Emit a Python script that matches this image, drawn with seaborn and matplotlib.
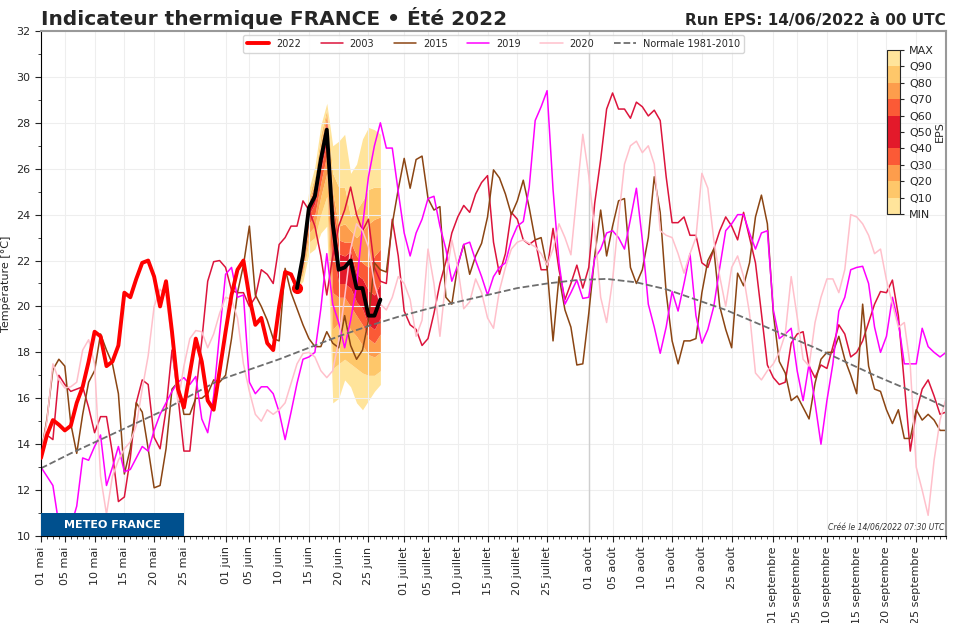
import numpy as np
import pandas as pd
import matplotlib
matplotlib.use('Agg')
import matplotlib.pyplot as plt
from matplotlib.colors import ListedColormap, BoundaryNorm
from matplotlib.cm import ScalarMappable
from matplotlib.ticker import MultipleLocator
from matplotlib.patches import Rectangle
import matplotlib.dates as mdates
import seaborn as sns

sns.set_style('ticks')

# --- data (daily mean temperature, 01 May -> 30 Sep) ---
dates = pd.date_range('2022-05-01', '2022-09-30', freq='D')

t2003 = [13.5, 14.4, 14.2, 17.0, 16.6, 16.3, 16.4, 16.5, 15.6, 14.5,
         15.2, 15.2, 13.6, 11.5, 11.7, 13.4, 15.8, 16.8, 16.6, 14.3,
         13.8, 15.5, 18.1, 16.1, 13.7, 13.7, 16.2, 18.5, 21.1, 21.95, 22.0,
         21.7, 20.7, 20.6, 20.6, 20.0, 20.4, 21.6, 21.4, 21.0, 22.7,
         23.0, 23.5, 23.5, 24.6, 24.2, 23.5, 22.2, 20.5, 22.2, 23.5,
         24.2, 25.2, 24.0, 23.3, 23.8, 21.7, 21.1, 21.0, 23.8, 22.2,
         19.8, 19.2, 19.0, 18.3, 18.6, 19.7, 21.0, 21.95, 23.2, 23.9,
         24.4, 24.1, 24.9, 25.4, 25.7, 22.8, 21.4, 22.3, 24.1, 23.8,
         22.9, 22.7, 22.9, 21.6, 21.6, 23.4, 21.6, 20.3, 21.0, 21.8, 20.8,
         21.7, 24.5, 26.4, 28.6, 29.3, 28.6, 28.6, 28.2, 28.9, 28.7,
         28.3, 28.55, 28.1, 25.65, 23.65, 23.65, 23.9, 23.1, 23.1, 21.9,
         21.7, 22.5, 23.3, 23.9, 23.5, 22.9, 24.1, 23.0, 21.9, 19.7, 17.45,
         16.9, 16.6, 16.7, 18.4, 18.8, 18.9, 17.4, 16.9, 17.45, 17.3,
         18.25, 19.2, 18.8, 17.8, 18.0, 18.5, 19.3, 20.1, 20.65, 20.6,
         21.15, 19.6, 16.65, 13.7, 15.4, 16.4, 16.8, 16.1, 15.3, 15.4]

t2015 = [13.6, 15.1, 17.25, 17.7, 17.4, 14.9, 13.6, 15.3, 16.7, 17.2,
         18.8, 18.1, 17.5, 16.2, 12.7, 13.8, 15.8, 15.4, 13.8, 12.1,
         12.2, 13.8, 16.4, 16.7, 15.3, 15.3, 16.0, 16.0, 16.2, 16.8, 16.7,
         17.0, 18.6, 20.6, 21.8, 23.5, 20.5, 20.0, 19.4, 18.6, 18.5,
         21.66, 20.6, 19.9, 19.2, 18.6, 18.25, 18.25, 18.9, 18.4, 18.2,
         19.6, 18.3, 17.7, 18.1, 19.4, 21.9, 21.6, 21.5, 23.6, 25.1,
         26.45, 25.15, 26.4, 26.55, 24.7, 24.2, 24.35, 20.4, 20.1, 21.8,
         22.7, 21.4, 22.2, 22.75, 23.9, 25.95, 25.6, 24.9, 24.0, 24.6,
         25.5, 24.3, 22.9, 23.0, 21.7, 18.5, 21.3, 19.85, 19.1, 17.45, 17.5,
         19.7, 22.2, 24.2, 22.2, 23.5, 24.6, 24.7, 21.7, 21.0, 21.6,
         23.0, 25.65, 24.1, 20.6, 18.5, 17.5, 18.5, 18.5, 18.6, 20.6,
         22.0, 22.5, 20.0, 19.0, 18.2, 21.45, 20.9, 21.9, 23.9, 24.85, 23.6,
         19.7, 17.6, 17.1, 15.9, 16.1, 15.6, 15.1, 16.65, 17.7, 18.0,
         18.0, 18.7, 17.7, 17.0, 16.2, 20.1, 17.4, 16.4, 16.3, 15.5,
         14.9, 15.5, 14.25, 14.25, 15.5, 15.05, 15.3, 15.05, 14.6, 14.6]

t2019 = [13.0, 12.6, 12.2, 10.5, 10.1, 10.4, 11.3, 13.4, 13.3, 13.9,
         14.4, 12.2, 13.0, 13.9, 12.8, 12.9, 13.4, 13.9, 13.7, 14.6,
         15.3, 15.8, 16.3, 16.7, 16.9, 16.6, 16.95, 15.1, 14.5, 16.1, 18.85,
         21.4, 21.7, 20.4, 20.5, 16.7, 16.2, 16.5, 16.5, 16.2, 15.4,
         14.2, 15.4, 16.65, 17.7, 17.8, 18.0, 19.9, 22.3, 20.1, 19.3,
         18.2, 19.4, 20.9, 23.5, 25.65, 27.0, 28.0, 26.9, 26.9, 25.0,
         23.2, 22.2, 23.2, 23.8, 24.7, 24.8, 23.5, 22.5, 21.1, 21.8,
         22.7, 22.8, 22.0, 21.3, 20.5, 21.3, 21.7, 21.9, 22.9, 23.5,
         23.7, 25.2, 28.1, 28.7, 29.4, 25.1, 21.9, 20.1, 20.6, 21.15, 20.35,
         20.4, 22.1, 22.5, 23.2, 23.3, 23.0, 22.5, 23.8, 25.15, 22.9,
         20.1, 19.1, 17.96, 19.1, 20.65, 19.8, 21.0, 22.3, 19.6, 18.4,
         19.0, 20.0, 21.7, 23.3, 23.6, 24.0, 24.0, 23.2, 22.5, 23.2, 23.3,
         19.85, 18.6, 18.8, 19.05, 17.2, 15.9, 17.5, 15.8, 14.0, 15.9,
         17.5, 19.8, 20.4, 21.6, 21.7, 21.75, 21.0, 19.1, 18.0, 18.7,
         20.4, 19.3, 17.5, 17.5, 17.5, 19.05, 18.25, 18.0, 17.8, 18.0]

t2020 = [13.6, 15.0, 17.5, 16.8, 16.45, 16.5, 16.7, 18.1, 18.55, 17.5,
         12.6, 10.95, 12.6, 13.3, 13.8, 14.1, 14.8, 16.4, 17.85, 20.0,
         20.75, 20.45, 18.5, 15.8, 17.4, 18.6, 18.95, 18.9, 18.2, 18.8, 19.7,
         20.4, 20.3, 19.5, 17.5, 16.3, 15.3, 15.0, 15.5, 15.3, 15.5,
         15.8, 16.65, 17.5, 17.95, 18.0, 17.8, 17.2, 16.9, 17.2, 18.5,
         20.4, 22.5, 23.6, 23.3, 22.6, 21.0, 20.1, 19.85, 20.4, 21.3,
         21.0, 20.3, 18.7, 19.4, 22.5, 21.0, 18.7, 21.15, 22.9, 21.7,
         19.9, 20.2, 21.2, 20.6, 19.5, 19.05, 20.7, 21.7, 22.5, 22.8,
         22.9, 22.75, 22.6, 22.3, 21.8, 22.5, 23.6, 23.0, 22.25, 24.9, 27.5,
         25.7, 23.3, 20.4, 19.3, 21.15, 23.8, 26.2, 27.0, 27.2, 26.7,
         27.0, 26.2, 23.3, 23.1, 23.0, 22.3, 21.45, 22.3, 23.0, 25.8,
         25.15, 22.9, 21.3, 20.0, 21.7, 22.2, 21.3, 19.7, 17.1, 16.8, 17.2,
         17.5, 18.0, 18.8, 21.3, 19.55, 17.7, 17.4, 19.3, 20.4, 21.2,
         21.2, 20.6, 21.6, 24.0, 23.9, 23.6, 23.1, 22.3, 22.5, 21.15,
         20.1, 19.1, 19.3, 17.4, 13.0, 12.0, 10.9, 13.3, 15.05, 16.0]

# 2022 observed (01/05 -> 13/06)
t2022 = [13.4, 14.4, 15.05, 14.85, 14.6, 14.8, 15.8, 16.5, 17.6, 18.9,
         18.7, 17.4, 17.6, 18.3, 20.6, 20.4, 21.2, 21.9, 22.0, 21.3,
         20.0, 21.1, 18.9, 16.4, 15.6, 17.1, 18.6, 17.6, 15.9, 15.5, 17.2,
         18.9, 20.5, 21.6, 22.0, 20.4, 19.2, 19.5, 18.4, 18.1, 20.0,
         21.5, 21.4, 20.8]

# normale 1981-2010, one value every 5 days
norm_days = [0, 5, 10, 15, 20, 25, 30, 35, 40, 45, 50, 55, 60, 65, 70, 75,
             80, 85, 90, 95, 100, 105, 110, 115, 120, 125, 130, 135, 140,
             145, 150, 152]
normale = [12.95, 13.6, 14.2, 14.8, 15.4, 16.1, 16.8, 17.25, 17.7, 18.2,
           18.7, 19.15, 19.55, 19.9, 20.2, 20.5, 20.8, 21.0, 21.15, 21.2,
           21.05, 20.75, 20.3, 19.85, 19.3, 18.75, 18.2, 17.6, 17.0, 16.45,
           15.85, 15.6]

# EPS forecast, run 14/06 (13/06 -> 27/06)
eps_med = [20.8, 22.2, 24.3, 24.8, 26.4, 27.7, 23.6, 21.6, 21.7, 22.0, 20.8, 20.8, 19.6, 19.6, 20.3]
eps_min = [20.8, 21.1, 22.3, 22.5, 23.2, 23.5, 15.8, 16.0, 16.8, 16.5, 15.8, 15.5, 15.9, 16.3, 16.6]
eps_q10 = [20.8, 21.4, 22.8, 23.0, 24.0, 24.8, 17.3, 17.5, 17.7, 17.5, 17.3, 17.1, 17.0, 17.0, 17.2]
eps_q20 = [20.8, 21.6, 23.2, 23.5, 24.8, 25.8, 19.0, 19.3, 19.4, 19.0, 18.7, 18.3, 17.9, 17.8, 18.0]
eps_q30 = [20.8, 21.8, 23.6, 24.0, 25.4, 26.6, 20.6, 20.4, 20.4, 20.0, 19.6, 19.2, 18.6, 18.4, 18.8]
eps_q40 = [20.8, 22.0, 24.0, 24.5, 26.0, 27.2, 22.5, 21.0, 21.0, 20.8, 20.2, 19.9, 19.2, 19.0, 19.5]
eps_q60 = [20.8, 22.3, 24.4, 25.0, 26.6, 28.0, 24.2, 22.3, 22.2, 22.4, 21.4, 21.2, 20.7, 20.5, 21.0]
eps_q70 = [20.8, 22.4, 24.5, 25.2, 26.8, 28.2, 24.6, 22.9, 22.8, 22.8, 22.2, 21.9, 21.7, 22.2, 22.5]
eps_q80 = [20.8, 22.5, 24.6, 25.4, 27.1, 28.4, 25.0, 23.5, 23.6, 23.3, 23.0, 23.3, 23.6, 23.8, 23.9]
eps_q90 = [20.8, 22.6, 24.8, 25.7, 27.5, 28.6, 25.8, 25.2, 25.2, 23.9, 24.2, 24.6, 25.1, 25.2, 25.2]
eps_max = [20.8, 22.9, 25.1, 26.1, 27.9, 28.85, 27.0, 27.2, 27.5, 25.8, 26.2, 27.3, 27.8, 27.7, 27.5]

eps_labels = ['MIN', 'Q10', 'Q20', 'Q30', 'Q40', 'Q50', 'Q60', 'Q70', 'Q80', 'Q90', 'MAX']
mois = {5: 'mai', 6: 'juin', 7: 'juillet', 8: 'août', 9: 'septembre'}

obs_dates = dates[:len(t2022)]
eps_dates = dates[len(t2022) - 1:len(t2022) - 1 + len(eps_med)]
norm_dates = dates[0] + pd.to_timedelta(norm_days, unit='D')

# colours of the EPS fan (outer -> inner)
c_pale, c_lor, c_or, c_ror, c_red = '#ffe49b', '#fec76a', '#fd9d4c', '#fb5a36', '#e3192a'

fig = plt.figure(figsize=(9.64, 6.23), dpi=100)
ax = fig.add_axes([41 / 964, 87 / 623, 905 / 964, 505 / 623])

# EPS fan
bands = [(eps_min, eps_q10, c_pale), (eps_q10, eps_q20, c_lor), (eps_q20, eps_q30, c_or),
         (eps_q30, eps_q40, c_ror), (eps_q40, eps_q60, c_red), (eps_q60, eps_q70, c_ror),
         (eps_q70, eps_q80, c_or), (eps_q80, eps_q90, c_lor), (eps_q90, eps_max, c_pale)]
for lo, hi, c in bands:
    ax.fill_between(eps_dates, lo, hi, color=c, lw=0, zorder=0.3)

sns.lineplot(x=obs_dates, y=t2022, ax=ax, color='#ff0000', lw=2.8, label='2022', zorder=5)
sns.lineplot(x=dates, y=t2003, ax=ax, color='#dc143c', lw=1.1, label='2003')
sns.lineplot(x=dates, y=t2015, ax=ax, color='#8b4513', lw=1.1, label='2015')
sns.lineplot(x=dates, y=t2019, ax=ax, color='#ff00ff', lw=1.1, label='2019')
sns.lineplot(x=dates, y=t2020, ax=ax, color='#ffc0cb', lw=1.1, label='2020')
sns.lineplot(x=norm_dates, y=normale, ax=ax, color='#6e6e6e', lw=1.3, linestyle='--',
             label='Normale 1981-2010')
sns.lineplot(x=eps_dates, y=eps_med, ax=ax, color='black', lw=2.8, label='_nolegend_', zorder=6)
ax.plot(obs_dates[-1], t2022[-1], 'o', color='#ff0000', ms=7, zorder=5)

ax.axvline(pd.Timestamp('2022-08-01'), color='#cfcfcf', lw=1, zorder=0.6)

# axes
ax.set_xlim(dates[0], dates[-1])
ax.set_ylim(10, 32)
ax.yaxis.set_major_locator(MultipleLocator(2))
ax.yaxis.set_minor_locator(MultipleLocator(1))
ticks = [d for d in dates if d.day in (1, 5, 10, 15, 20, 25)]
ax.set_xticks(ticks)
ax.set_xticklabels([f'{d.day:02d} {mois[d.month]}' for d in ticks], rotation=90, fontsize=8)
ax.xaxis.set_minor_locator(mdates.DayLocator())
ax.tick_params(axis='both', which='major', labelsize=8, length=4, width=0.8)
ax.tick_params(axis='both', which='minor', length=2, width=0.6)
ax.set_axisbelow(True)
ax.grid(True, which='major', color='#eeeeee', lw=0.8)
ax.set_ylabel('Température [°C]', fontsize=8)
ax.set_xlabel('Date', fontsize=8)
for s in ['top', 'right']:
    ax.spines[s].set_color('#999999')
    ax.spines[s].set_linewidth(1.5)
for s in ['left', 'bottom']:
    ax.spines[s].set_color('black')

ax.set_title('Indicateur thermique FRANCE • Été 2022', loc='left', fontsize=14.5,
             fontweight='bold', pad=4)
ax.set_title('Run EPS: 14/06/2022 à 00 UTC', loc='right', fontsize=11, fontweight='bold', pad=4)

leg = ax.legend(loc='upper center', bbox_to_anchor=(0.5, 1.0), ncol=6, fontsize=7,
                handlelength=2.3, handletextpad=0.7, columnspacing=2.0,
                borderaxespad=0.4, frameon=True)
leg.get_frame().set_edgecolor('#cccccc')

# logo + credit
ax.add_patch(Rectangle((0, 0), 143 / 905, 23 / 505, transform=ax.transAxes,
                       facecolor='#00508e', edgecolor='none', zorder=7))
ax.text(71.5 / 905, 11.5 / 505, 'METEO FRANCE', transform=ax.transAxes, color='white',
        fontsize=8, fontweight='bold', ha='center', va='center', zorder=8)
ax.text(0.998, 0.006, 'Créé le 14/06/2022 07:30 UTC', transform=ax.transAxes, fontsize=5.5,
        style='italic', color='#333333', ha='right', va='bottom', zorder=8)

# EPS colour scale
cax = fig.add_axes([887 / 964, 409 / 623, 13 / 964, 164 / 623])
cmap = ListedColormap([c_pale, c_lor, c_or, c_ror, c_red, c_red, c_ror, c_or, c_lor, c_pale])
norm = BoundaryNorm(np.arange(11), cmap.N)
cb = fig.colorbar(ScalarMappable(norm=norm, cmap=cmap), cax=cax, ticks=np.arange(11))
cb.set_ticklabels(eps_labels)
cb.ax.tick_params(labelsize=8, length=3)
cb.set_label('EPS', fontsize=8, labelpad=1)

fig.savefig('out.png', dpi=100)
